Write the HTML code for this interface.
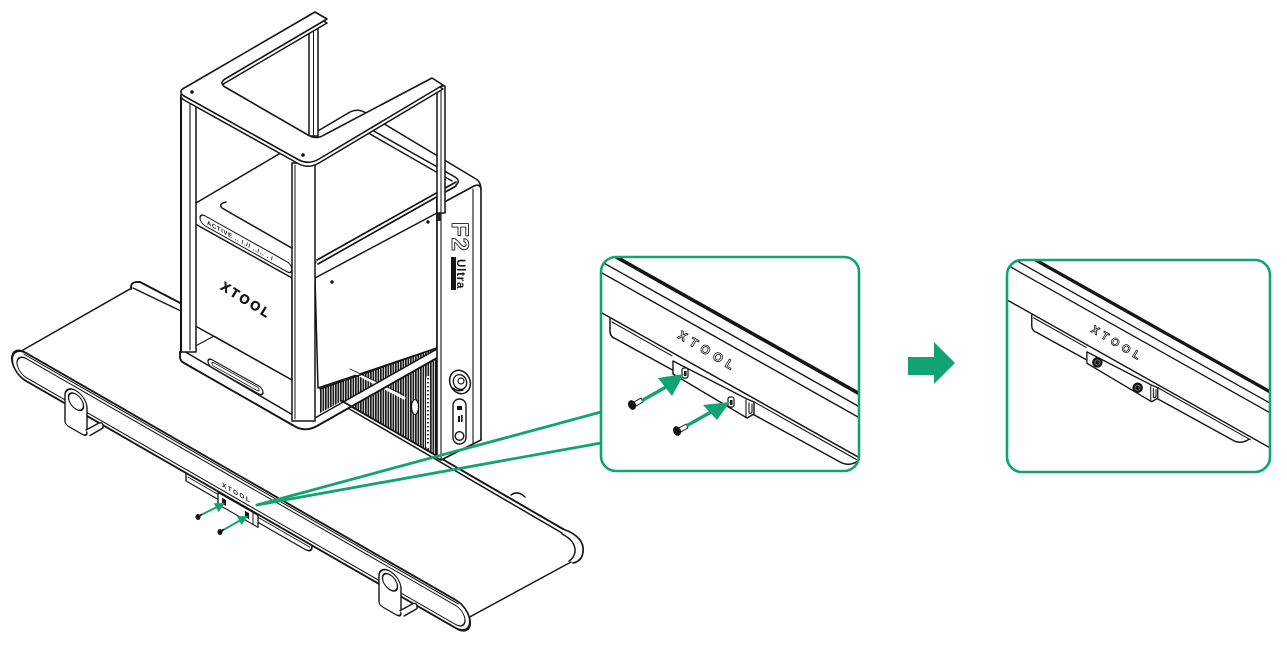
<!DOCTYPE html>
<html><head><meta charset="utf-8">
<style>html,body{margin:0;padding:0;background:#fff;}svg{display:block}</style>
</head><body>
<svg width="1287" height="645" viewBox="0 0 1287 645" xmlns="http://www.w3.org/2000/svg" font-family="Liberation Sans, Arial, sans-serif">
<defs>
<pattern id="vent" width="2.5" height="10" patternUnits="userSpaceOnUse">
<rect width="2.5" height="10" fill="#fff"/>
<rect width="1.7" height="10" fill="#1c1c1c"/>
</pattern>
<clipPath id="c1"><rect x="601" y="257" width="258" height="214" rx="15"/></clipPath>
<clipPath id="c2"><rect x="1007" y="260" width="263" height="212" rx="15"/></clipPath>
</defs>
<rect width="1287" height="645" fill="#fff"/>

<!-- ===== conveyor belt lines ===== -->
<g fill="none" stroke="#151515" stroke-width="1.5" stroke-linecap="round" stroke-linejoin="round">
<path d="M131,289 Q130,281 140,282 L184,305" stroke-width="1.9"/>
<path d="M133,288 L183,312"/>
<path d="M130,289 L23,350"/>
<path d="M342,401 L563,529" stroke-width="1.9"/>
<path d="M346,407 L562,533"/>
<path d="M563,529 Q585,537 583,552 Q582,561 573,563" stroke-width="1.7"/>
<path d="M562,534 Q576,541 575,552 Q574,558 569,561"/>
<path d="M571,562 L466,619"/>
<path d="M511,495 Q518,490 525,497"/>
</g>

<!-- ===== machine ===== -->
<g stroke="#151515" stroke-width="1.5" fill="none" stroke-linejoin="round" stroke-linecap="round">
<path d="M196,203 L350,112 Q358,108 366,113 L476,179 Q481,182 481,190"/>
<path d="M226,202 Q218,204 222,208 L316,262"/>
<path d="M372,130 L455,177 Q461,181 456,185"/>
<path d="M370,134 L452,181"/>
<path d="M317,260 L456,182" stroke-width="1.7"/>
<path d="M318,264 L456,186" stroke-width="1.7"/>

<polygon points="190,221 292,278 292,380 190,323" fill="#fff"/>
<g transform="matrix(1,0.56,0,1,0,101)">
<rect x="200" y="0" width="92" height="10" rx="5" fill="#fff" stroke-width="1.2"/>
<text x="207" y="7.3" font-size="6" font-weight="bold" fill="#151515" stroke="none" letter-spacing="0.6">ACTIVE .. /.// ../.. . /</text>
</g>
<text x="0" y="0" transform="translate(244,304) rotate(32)" text-anchor="middle" font-size="13" font-weight="bold" letter-spacing="2.6" fill="#151515" stroke="#151515" stroke-width="0.5">XTOOL</text>

<path d="M193,323 L193,352" stroke-width="1.1"/>
<path d="M190,349 L214,336 L292,380" stroke-width="1.1"/>
<g transform="matrix(1,0.56,0,1,0,241)">
<rect x="208" y="0" width="55" height="8" rx="4" fill="#fff" stroke-width="1.3"/>
<rect x="212" y="2" width="47" height="3.5" rx="1.7" stroke-width="0.9"/>
</g>

<polygon points="315,278 437,213 437,348 318,388" fill="#fff"/>
<circle cx="332" cy="282" r="1.7" fill="#151515" stroke="none"/>
<circle cx="428" cy="222" r="1.7" fill="#151515" stroke="none"/>

<polygon points="320,389 437,348 437,456 342,401 320,413" fill="url(#vent)" stroke="none"/>
<path d="M352,371 L404,398" stroke="#fff" stroke-width="3"/>
<path d="M350,369 L404,395" stroke-width="0.8"/>
<ellipse cx="415" cy="407" rx="3.6" ry="7.5" fill="#fff" stroke-width="1.3"/>
<path d="M428,378 L428,446" stroke="#fff" stroke-width="4"/>
<path d="M428,378 L428,446" stroke-width="1.6" stroke-dasharray="1.5 2.5" stroke-linecap="butt"/>
<path d="M320,389 L437,348"/>

<polygon points="313,420 437,349 437,357 318,426" fill="#fff" stroke="none"/>
<path d="M180,352 L180,357 Q180,361 184,363 L296,427 Q306,432 317,426 L437,358" stroke-width="1.9"/>
<path d="M182,350 L298,418 Q306,423 315,418 L437,349" stroke-width="1.5"/>
<path d="M342,401 L437,456" stroke-width="1.7"/>

<path d="M437,206 L474,186 Q481,183 481,191 L481,440 L441,460 L437,458 Z" fill="#fff" stroke-width="1.6"/>
<path d="M441,204 L441,459" stroke-width="1.1"/>
<path d="M473,189 L473,443" stroke-width="1.1"/>
<rect x="436" y="199" width="5" height="22" fill="#222" stroke="none"/>
<text x="0" y="0" transform="translate(452,222) rotate(90)" font-size="24" font-weight="bold" letter-spacing="1" fill="#fff" stroke="#151515" stroke-width="0.9">F2</text>
<rect x="451" y="257" width="5" height="33" fill="#151515" stroke="none"/>
<text x="0" y="0" transform="translate(457,259) rotate(90)" font-size="11.5" font-weight="bold" letter-spacing="0.8" fill="#151515" stroke="none">Ultra</text>
<ellipse cx="460" cy="382" rx="10" ry="12" transform="rotate(-25 460 382)" fill="#fff" stroke-width="1.5"/>
<ellipse cx="460" cy="382" rx="6.5" ry="7.5" transform="rotate(-25 460 382)" stroke-width="1.3"/>
<circle cx="461" cy="381" r="3" stroke-width="1.2"/>
<path d="M453,388 Q457,392 463,390" stroke-width="1.5"/>
<rect x="453" y="399" width="13" height="45" rx="6.5" fill="#fff" stroke-width="1.4"/>
<rect x="457" y="406" width="5" height="4" fill="#151515" stroke="none"/>
<rect x="458" y="416" width="2" height="6" fill="#151515" stroke="none"/>
<rect x="461" y="415" width="1.6" height="7" fill="#151515" stroke="none"/>
<circle cx="459.5" cy="436" r="4.3" stroke-width="1.4"/>

<rect x="309" y="24" width="9" height="112" fill="#fff"/>
<path d="M313.5,26 L313.5,135" stroke-width="1"/>
<rect x="181" y="95" width="15" height="257" fill="#fff"/>
<path d="M181,95 L181,352" stroke-width="2.1"/>
<path d="M190,97 L190,350" stroke-width="1.1"/>
<rect x="292" y="163" width="23" height="258" fill="#fff"/>
<path d="M295,165 L295,419" stroke-width="1"/>
<rect x="437" y="86" width="8" height="127" fill="#fff"/>
<path d="M441,88 L441,212" stroke-width="1"/>

<path d="M186,87 L315,12 L327,19 L225,79 Q219,83 225,87 L308,135 Q316,140 324,135 L432,78 L443,85 L319,159 Q309,165 299,160 L184,96 Q177,91 186,87 Z" transform="translate(0,4)" fill="#fff" stroke-width="1.5"/>
<path d="M186,87 L315,12 L327,19 L225,79 Q219,83 225,87 L308,135 Q316,140 324,135 L432,78 L443,85 L319,159 Q309,165 299,160 L184,96 Q177,91 186,87 Z" fill="#fff" stroke-width="1.6"/>
<circle cx="192" cy="92" r="1.8" fill="#151515" stroke="none"/>
<circle cx="303" cy="155" r="1.8" fill="#151515" stroke="none"/>
</g>

<!-- ===== front rail assembly ===== -->
<g stroke="#151515" stroke-width="1.4" fill="none" stroke-linejoin="round" stroke-linecap="round">
<g transform="matrix(1,0.575,0,1,0,338)">
<path d="M186,20 L186,36 L304,36 Q312,36 312,29 L312,20 Z" fill="#fff"/>
<path d="M188,31 L310,31" stroke-width="1"/>
</g>
<g transform="matrix(1,0.575,0,1,0,338)">
<rect x="12" y="0" width="458" height="28" rx="14" fill="#fff" stroke-width="2.1"/>
<path d="M24,2.4 L458,2.4" stroke-width="1.2"/>
<rect x="17" y="5.5" width="448" height="19" rx="9.5" stroke-width="1.2"/>
<text x="222" y="21" font-size="6.5" font-weight="bold" letter-spacing="1.4" fill="#151515" stroke="none">XTOOL</text>
<rect x="218" y="29" width="40" height="12" fill="#fff" stroke-width="1.3"/>
<path d="M253,29.5 L253,40.5" stroke-width="1"/>
<rect x="222" y="32" width="4" height="6" fill="#151515" stroke="none"/>
<rect x="245" y="32" width="4" height="6" fill="#151515" stroke="none"/>
<path d="M65,46 L65,20 A11,11 0 0 1 87,20 L87,44 Q87,49 82,49 L70,49 Q65,49 65,46 Z" fill="#fff"/>
<circle cx="76" cy="20" r="7.5" fill="#fff"/>
<path d="M379,46 L379,20 A11,11 0 0 1 401,20 L401,44 Q401,49 396,49 L384,49 Q379,49 379,46 Z" fill="#fff"/>
<circle cx="390" cy="20" r="7.5" fill="#fff"/>
</g>
<path d="M86,430 L99,423 Q103,422 103,426 L103,428 L90,435.5" fill="#fff"/>
<path d="M400,610.6 L413,603.6 Q417,602.6 417,606.6 L417,608.6 L404,616" fill="#fff"/>
<ellipse cx="198" cy="517" rx="2.6" ry="3" fill="#151515" stroke="none"/>
<path d="M199,516 L203,514" stroke-width="1.6"/>
<ellipse cx="220" cy="532" rx="2.6" ry="3" fill="#151515" stroke="none"/>
<path d="M221,531 L225,529" stroke-width="1.6"/>
</g>

<!-- ===== green callouts (main) ===== -->
<g stroke="#12a374" fill="#12a374" stroke-linecap="round">
<path d="M257,505 L601,412" stroke-width="2.8" fill="none"/>
<path d="M257,505 L601,443" stroke-width="2.8" fill="none"/>
<path d="M203,514 L217,507" stroke-width="2" fill="none"/>
<polygon points="225,503 218.6,512.1 213.8,503.3" stroke="none"/>
<path d="M225,529 L240,520.5" stroke-width="2" fill="none"/>
<polygon points="248,516 241.6,525.1 236.8,516.3" stroke="none"/>
</g>

<!-- ===== detail box 1 ===== -->
<g clip-path="url(#c1)" stroke="#151515" fill="none" stroke-linecap="round" stroke-linejoin="round">
<line x1="570" y1="231" x2="900" y2="416.6" stroke-width="3.6"/>
<line x1="570" y1="244" x2="900" y2="429.6" stroke-width="1.4"/>
<line x1="570" y1="255" x2="900" y2="440.6" stroke-width="1.4"/>
<line x1="570" y1="295" x2="900" y2="480.6" stroke-width="1.5"/>
<path d="M610,318.5 L610,331 Q610,337 616,339 L840,462 Q849,467 858,461" stroke-width="1.5"/>
<line x1="612" y1="322" x2="672" y2="355.8" stroke-width="1.1"/>
<line x1="753" y1="401.3" x2="860" y2="461.5" stroke-width="1.1"/>
<text x="0" y="0" transform="translate(706,355) rotate(31)" text-anchor="middle" font-size="12.5" font-weight="bold" letter-spacing="5" fill="#fff" stroke="#151515" stroke-width="0.8">XTOOL</text>
<path d="M673,361 L747,399 L754,402 L754,414 L747,418 L673,374 Z" fill="#fff" stroke-width="1.4"/>
<path d="M746,400 L746,417 M749,403 L749,413 Q751,414 752,412 L752,404" stroke-width="1.1"/>
<rect x="682" y="368" width="6" height="10" rx="2" fill="#fff" stroke-width="1.2"/>
<rect x="684" y="371" width="2.5" height="5" fill="#151515" stroke="none"/>
<rect x="728" y="397" width="6" height="10" rx="2" fill="#fff" stroke-width="1.2"/>
<rect x="730" y="400" width="2.5" height="5" fill="#151515" stroke="none"/>
<path d="M634,402 L641,398 L643,402 L636,406 Z" fill="#fff" stroke-width="1"/>
<ellipse cx="632" cy="405" rx="3.8" ry="5" transform="rotate(-25 632 405)" fill="#151515" stroke="none"/>
<path d="M679,428 L686,424 L688,428 L681,432 Z" fill="#fff" stroke-width="1"/>
<ellipse cx="677" cy="431" rx="3.8" ry="5" transform="rotate(-25 677 431)" fill="#151515" stroke="none"/>
</g>
<g stroke="#12a374" fill="#12a374" stroke-linecap="round">
<path d="M643,400 L666,387" stroke-width="3.5" fill="none"/>
<polygon points="684,374 658,378 672,396" stroke="none"/>
<path d="M688,425 L711,412" stroke-width="3.5" fill="none"/>
<polygon points="730,402 703,405 717,420" stroke="none"/>
</g>
<rect x="601" y="257" width="258" height="214" rx="15" fill="none" stroke="#12a374" stroke-width="2.6"/>

<!-- ===== detail box 2 ===== -->
<g clip-path="url(#c2)">
<g transform="matrix(0.875,0,0,0.875,498,36)" stroke="#151515" fill="none" stroke-linecap="round" stroke-linejoin="round">
<line x1="570" y1="231" x2="900" y2="416.6" stroke-width="3.8"/>
<line x1="570" y1="244" x2="900" y2="429.6" stroke-width="1.5"/>
<line x1="570" y1="255" x2="900" y2="440.6" stroke-width="1.5"/>
<line x1="570" y1="295" x2="900" y2="480.6" stroke-width="1.6"/>
<path d="M610,318.5 L610,331 Q610,337 616,339 L840,462 Q849,467 858,461" stroke-width="1.6"/>
<line x1="612" y1="322" x2="672" y2="355.8" stroke-width="1.2"/>
<line x1="753" y1="401.3" x2="860" y2="461.5" stroke-width="1.2"/>
<text x="0" y="0" transform="translate(706,355) rotate(31)" text-anchor="middle" font-size="12.5" font-weight="bold" letter-spacing="5" fill="#fff" stroke="#151515" stroke-width="0.9">XTOOL</text>
<path d="M673,361 L747,399 L754,402 L754,414 L747,418 L673,374 Z" fill="#fff" stroke-width="1.5"/>
<path d="M746,400 L746,417 M749,403 L749,413 Q751,414 752,412 L752,404" stroke-width="1.2"/>
<circle cx="685" cy="373" r="6" fill="#151515" stroke="none"/>
<circle cx="685" cy="373" r="3" fill="none" stroke="#777" stroke-width="1"/>
<circle cx="731" cy="402" r="6" fill="#151515" stroke="none"/>
<circle cx="731" cy="402" r="3" fill="none" stroke="#777" stroke-width="1"/>
</g>
</g>
<rect x="1007" y="260" width="263" height="212" rx="15" fill="none" stroke="#12a374" stroke-width="2.6"/>

<!-- ===== block arrow ===== -->
<polygon points="908,357 934,357 934,342 955,363 934,384 934,375 908,375" fill="#12a374"/>
</svg>
</body></html>
